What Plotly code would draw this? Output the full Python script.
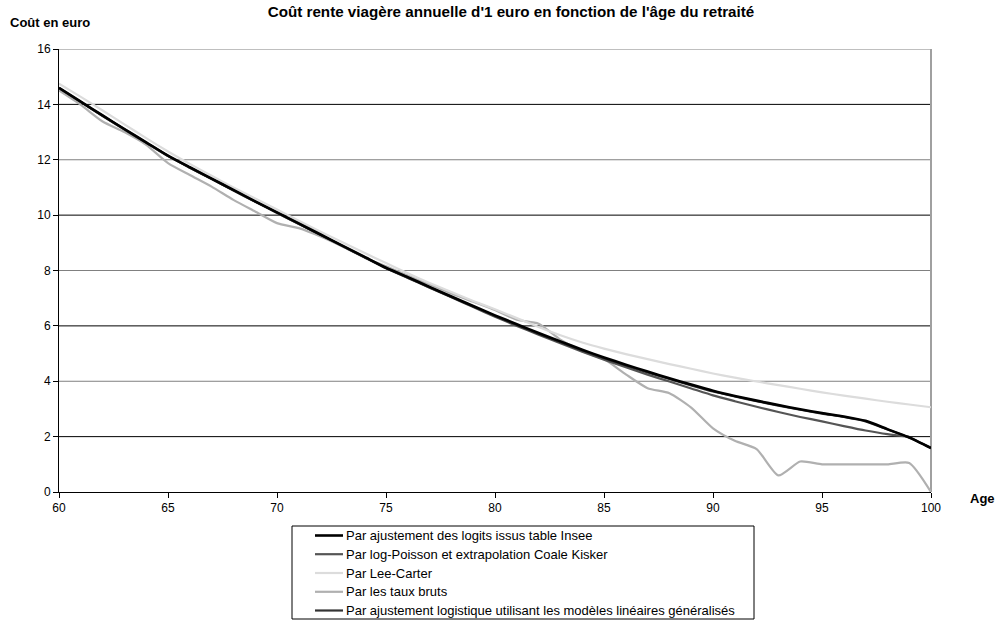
import plotly.graph_objects as go

ages = list(range(60, 101))

insee = [14.60, 14.10, 13.60, 13.11, 12.63, 12.15, 11.73, 11.32, 10.91, 10.50,
         10.10, 9.70, 9.30, 8.90, 8.50, 8.10, 7.76, 7.41, 7.06, 6.72,
         6.38, 6.06, 5.74, 5.44, 5.14, 4.86, 4.60, 4.35, 4.11, 3.88,
         3.66, 3.47, 3.30, 3.14, 2.99, 2.85, 2.73, 2.57, 2.27, 1.97, 1.59]

log_poisson = [14.58, 14.08, 13.58, 13.09, 12.61, 12.13, 11.71, 11.30, 10.89, 10.48,
               10.08, 9.68, 9.28, 8.88, 8.48, 8.08, 7.73, 7.38, 7.03, 6.68,
               6.33, 6.00, 5.68, 5.37, 5.07, 4.78, 4.51, 4.24, 3.99, 3.74,
               3.49, 3.28, 3.08, 2.89, 2.71, 2.55, 2.38, 2.22, 2.09, 2.00]

lee_carter = [14.75, 14.27, 13.78, 13.28, 12.78, 12.30, 11.85, 11.42, 11.00, 10.60,
              10.20, 9.80, 9.40, 9.02, 8.64, 8.27, 7.90, 7.55, 7.22, 6.90,
              6.60, 6.28, 5.96, 5.66, 5.40, 5.18, 4.98, 4.80, 4.62, 4.45,
              4.28, 4.13, 3.99, 3.86, 3.73, 3.60, 3.48, 3.37, 3.26, 3.16, 3.06]

taux_bruts = [14.50, 13.98, 13.38, 13.00, 12.54, 11.88, 11.45, 11.03, 10.55, 10.13,
              9.71, 9.53, 9.23, 8.87, 8.48, 8.15, 7.82, 7.50, 7.17, 6.87,
              6.57, 6.22, 6.08, 5.50, 5.08, 4.80, 4.25, 3.75, 3.57, 3.05,
              2.30, 1.85, 1.55, 0.60, 1.10, 1.00, 1.00, 1.00, 1.00, 1.05, 0.00]

logistique = [14.59, 14.09, 13.59, 13.10, 12.62, 12.14, 11.72, 11.31, 10.90, 10.49,
              10.09, 9.69, 9.29, 8.89, 8.49, 8.09, 7.74, 7.39, 7.04, 6.70,
              6.36, 6.03, 5.71, 5.41, 5.11, 4.83, 4.57, 4.32, 4.08, 3.85,
              3.63, 3.45, 3.28, 3.12, 2.97, 2.83, 2.71, 2.55, 2.26, 1.97, 1.59]

names = ["Par ajustement des logits issus table Insee",
         "Par log-Poisson et extrapolation Coale Kisker",
         "Par Lee-Carter",
         "Par les taux bruts",
         "Par ajustement logistique utilisant les modèles linéaires généralisés"]

y_ticks = [0, 2, 4, 6, 8, 10, 12, 14, 16]
x_ticks = [60, 65, 70, 75, 80, 85, 90, 95, 100]

series = [
    (insee, "#000000", 2.6),
    (log_poisson, "#555555", 2.2),
    (lee_carter, "#dcdcdc", 2.2),
    (taux_bruts, "#b0b0b0", 2.2),
    (logistique, "#333333", 2.2),
]

W, H = 1000, 622
L, R, T, B = 59, 69, 49, 130
PW, PH = W - L - R, H - T - B


def px(x):
    return (x - L) / PW


def py(y):
    return (H - B - y) / PH


fig = go.Figure()
# draw lighter lines first so the black one stays on top
order = [3, 2, 1, 4, 0]
for i in order:
    vals, col, w = series[i]
    fig.add_trace(go.Scatter(x=ages[:len(vals)], y=vals, name=names[i], mode="lines",
                             showlegend=False,
                             line=dict(color=col, width=w, shape="spline", smoothing=0.6)))

shapes = []
for v in y_ticks[1:]:
    shapes.append(dict(type="line", xref="paper", yref="y", x0=0, x1=1, y0=v, y1=v,
                       line=dict(color="#000000" if v % 4 == 2 else "#808080", width=1),
                       layer="below"))
shapes.append(dict(type="line", xref="paper", yref="paper", x0=1, x1=1, y0=0, y1=1,
                   line=dict(color="#a0a0a0", width=2), layer="below"))

annotations = [
    dict(text="<b>Coût en euro</b>", xref="paper", yref="paper", x=px(8), y=py(22),
         xanchor="left", yanchor="middle", showarrow=False, font=dict(size=13)),
    dict(text="<b>Age</b>", xref="paper", yref="paper", x=px(968), y=py(498),
         xanchor="left", yanchor="middle", showarrow=False, font=dict(size=13)),
]

# legend box drawn by hand
shapes.append(dict(type="rect", xref="paper", yref="paper", x0=px(292), x1=px(754),
                   y0=py(619), y1=py(526), line=dict(color="#000000", width=1),
                   fillcolor="white"))
row_y = [535.5, 554.2, 573, 591.8, 610.5]
for i, (vals, col, w) in enumerate(series):
    shapes.append(dict(type="line", xref="paper", yref="paper", x0=px(315), x1=px(343),
                       y0=py(row_y[i]), y1=py(row_y[i]),
                       line=dict(color=col, width=w)))
    annotations.append(dict(text=names[i], xref="paper", yref="paper", x=px(344), y=py(row_y[i]),
                            xanchor="left", yanchor="middle", showarrow=False,
                            font=dict(size=13)))

fig.update_layout(
    width=W, height=H,
    margin=dict(l=L, r=R, t=T, b=B, autoexpand=False),
    paper_bgcolor="white", plot_bgcolor="white",
    font=dict(family="Liberation Sans, Arial, sans-serif", size=12, color="#000000"),
    title=dict(text="<b>Coût rente viagère annuelle d'1 euro en fonction de l'âge du retraité</b>",
               x=0.511, xref="container", xanchor="center", y=0.981, yref="container",
               yanchor="middle", font=dict(size=15.2)),
    shapes=shapes,
    annotations=annotations,
    showlegend=False,
)
fig.update_xaxes(range=[60, 100], tickvals=x_ticks, ticktext=[str(t) for t in x_ticks],
                 showgrid=False, zeroline=False, showline=True, linecolor="#000000",
                 linewidth=1, ticks="outside", ticklen=5, tickcolor="#000000",
                 tickfont=dict(size=12))
fig.update_yaxes(range=[0, 16], tickvals=y_ticks, ticktext=[str(t) for t in y_ticks],
                 showgrid=False, zeroline=False, showline=True, linecolor="#000000",
                 linewidth=1, ticks="outside", ticklen=5, tickcolor="#000000",
                 tickfont=dict(size=12))

fig.write_html("out.html", config={"displayModeBar": False},
               post_script="document.body.style.margin='0';document.body.style.overflow='hidden';")
